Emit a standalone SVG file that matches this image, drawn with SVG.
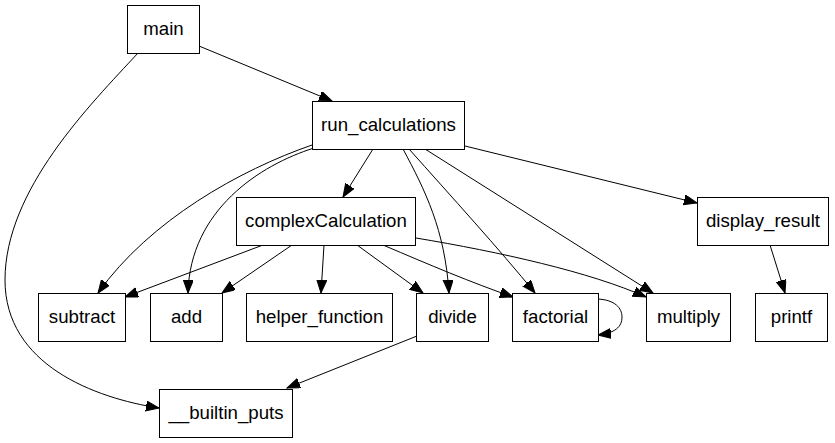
<svg xmlns="http://www.w3.org/2000/svg" width="835" height="443" viewBox="0 0 835 443">
<style>
.node rect{fill:#fff;stroke:#000;stroke-width:1}
.node text{font-family:"Liberation Sans",Arial,sans-serif;font-size:18.67px;text-anchor:middle;fill:#000}
.edges path{fill:none;stroke:#000;stroke-width:1;marker-end:url(#arr)}
</style>
<defs>
<marker id="arr" markerUnits="userSpaceOnUse" markerWidth="14" markerHeight="11" refX="13" refY="5" orient="auto" viewBox="0 0 14 11">
<path d="M0,0 L13,5 L0,10 z" fill="#000" stroke="#000" stroke-width="1"/>
</marker>
</defs>
<rect width="835" height="443" fill="#fff"/>
<g class="edges">
<path d="M199,46 L332,101"/>
<path d="M138,53 C90,105 5,190 5,280 C5,365 95,398 159,408"/>
<path d="M312,145 C240,170 150,220 98,293"/>
<path d="M314,148 C260,165 190,210 188,293"/>
<path d="M373,149 L343,197"/>
<path d="M403,149 C425,190 445,230 449,293"/>
<path d="M409,149 C450,195 500,250 535,293"/>
<path d="M425,149 L653,293"/>
<path d="M465,146 L697,203"/>
<path d="M263,245 L125,297"/>
<path d="M292,245 L222,293"/>
<path d="M324,245 L321,293"/>
<path d="M357,245 L423,293"/>
<path d="M383,245 C430,265 470,282 513,297"/>
<path d="M416,238 C500,252 590,272 646,297"/>
<path d="M598,299 C615,300 622,308 622,317 C622,327 615,333 598,335"/>
<path d="M770,245 L785,293"/>
<path d="M417,336 L287,388"/>
</g>
<g class="node" id="main"><rect x="127.5" y="5.5" width="72" height="48"/><text x="163.5" y="35">main</text></g>
<g class="node" id="run_calculations"><rect x="312.5" y="101.5" width="152" height="48"/><text x="388.5" y="131">run_calculations</text></g>
<g class="node" id="complexCalculation"><rect x="236.5" y="197.5" width="179" height="48"/><text x="326" y="227">complexCalculation</text></g>
<g class="node" id="display_result"><rect x="697.5" y="197.5" width="131" height="48"/><text x="763" y="227">display_result</text></g>
<g class="node" id="subtract"><rect x="38.5" y="293.5" width="87" height="48"/><text x="82" y="323">subtract</text></g>
<g class="node" id="add"><rect x="150.5" y="293.5" width="72" height="48"/><text x="186.5" y="323">add</text></g>
<g class="node" id="helper_function"><rect x="246.5" y="293.5" width="146" height="48"/><text x="319.5" y="323">helper_function</text></g>
<g class="node" id="divide"><rect x="416.5" y="293.5" width="72" height="48"/><text x="452.5" y="323">divide</text></g>
<g class="node" id="factorial"><rect x="512.5" y="293.5" width="86" height="48"/><text x="555.5" y="323">factorial</text></g>
<g class="node" id="multiply"><rect x="646.5" y="293.5" width="84" height="48"/><text x="688.5" y="323">multiply</text></g>
<g class="node" id="printf"><rect x="755.5" y="293.5" width="72" height="48"/><text x="791.5" y="323">printf</text></g>
<g class="node" id="builtin_puts"><rect x="159.5" y="389.5" width="133" height="48"/><text x="226" y="419">__builtin_puts</text></g>
</svg>
